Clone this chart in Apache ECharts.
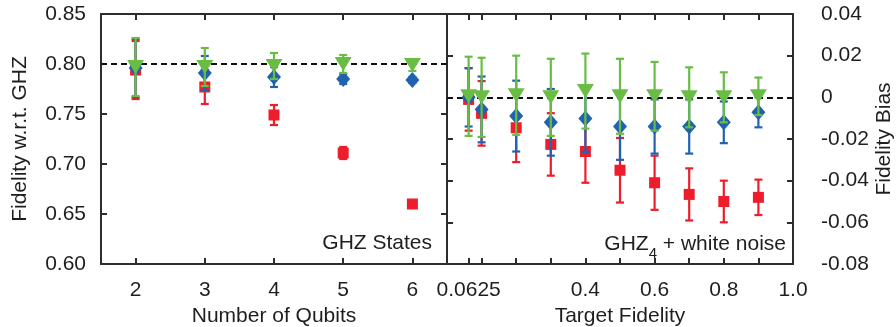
<!DOCTYPE html>
<html>
<head>
<meta charset="utf-8">
<script src="https://cdn.jsdelivr.net/npm/echarts@6/dist/echarts.min.js"></script>
<style>
html,body{margin:0;padding:0;background:#fff;}
#c{width:896px;height:327px;}
</style>
</head>
<body>
<div id="c"></div>
<script>
// ---- Left panel: GHZ states ----
const qubits = [2, 3, 4, 5, 6];
const ghzRed = [0.794, 0.777, 0.749, 0.711, 0.660];
const ghzRedErr = [0.029, 0.017, 0.010, 0.006, 0.002];
const ghzBlue = [0.796, 0.791, 0.787, 0.785, 0.784];
const ghzBlueErr = [0.029, 0.017, 0.010, 0.005, 0.003];
const ghzGreen = [0.797, 0.797, 0.798, 0.800, 0.799];
const ghzGreenErr = [0.029, 0.019, 0.013, 0.009, 0.006];
const qubitTicks = [2, 3, 4, 5, 6];
const ghzReference = 0.80;

// ---- Right panel: GHZ4 + white noise ----
const targetFid = [0.0625, 0.1, 0.2, 0.3, 0.4, 0.5, 0.6, 0.7, 0.8, 0.9];
const noiseRed = [-0.001, -0.0077, -0.0146, -0.0226, -0.026, -0.035, -0.041, -0.0466, -0.050, -0.048];
const noiseRedErr = [0.015, 0.0155, 0.0165, 0.015, 0.015, 0.0155, 0.013, 0.0125, 0.010, 0.0085];
const noiseBlue = [0.0, -0.0058, -0.009, -0.012, -0.0102, -0.014, -0.014, -0.014, -0.012, -0.0072];
const noiseBlueErr = [0.014, 0.0158, 0.017, 0.016, 0.016, 0.016, 0.013, 0.013, 0.010, 0.0072];
const noiseGreen = [0.0005, 0.0, 0.001, 0.0, 0.003, 0.0005, 0.0005, 0.0, 0.0, 0.0005];
const noiseGreenErr = [0.019, 0.019, 0.019, 0.0185, 0.018, 0.018, 0.0165, 0.0144, 0.012, 0.009];
const targetTicks = [0.0625, 0.1, 0.2, 0.3, 0.4, 0.5, 0.6, 0.7, 0.8, 0.9];
const targetLabels = [0.0625, 0.4, 0.6, 0.8, 1.0];
const biasReference = 0;

const RED = '#ee1d2b', BLUE = '#2162b0', GREEN = '#69bd45';
const FRAME = '#2b2e31', TEXT = '#1e1e1e';
const FONT = '"Liberation Sans", Arial, sans-serif';
const FS = 21;

const chart = echarts.init(document.getElementById('c'), null, {renderer: 'canvas'});

function errSeries(xs, ys, es, color, xi, yi, z) {
  return {
    type: 'custom', xAxisIndex: xi, yAxisIndex: yi, z: z, silent: true,
    data: xs.map((x, i) => [x, ys[i], es[i]]),
    encode: {x: 0, y: 1},
    renderItem: function (params, api) {
      const x = api.value(0), y = api.value(1), e = api.value(2);
      const t = api.coord([x, y + e]);
      const b = api.coord([x, y - e]);
      const w = 4;
      const st = {stroke: color, lineWidth: 2.2};
      return {type: 'group', children: [
        {type: 'line', shape: {x1: t[0], y1: t[1], x2: b[0], y2: b[1]}, style: st},
        {type: 'line', shape: {x1: t[0] - w, y1: t[1], x2: t[0] + w, y2: t[1]}, style: st},
        {type: 'line', shape: {x1: b[0] - w, y1: b[1], x2: b[0] + w, y2: b[1]}, style: st}
      ]};
    }
  };
}
function ptSeries(xs, ys, color, symbol, size, rot, xi, yi, z) {
  return {
    type: 'scatter', xAxisIndex: xi, yAxisIndex: yi, z: z, silent: true,
    symbol: symbol, symbolSize: size, symbolRotate: rot,
    itemStyle: {color: color, opacity: 1},
    data: xs.map((x, i) => [x, ys[i]])
  };
}
function refLine(val, xi, yi) {
  return {
    type: 'line', xAxisIndex: xi, yAxisIndex: yi, data: [], z: 1, silent: true,
    markLine: {
      silent: true, symbol: 'none', label: {show: false},
      lineStyle: {color: '#111', type: [6, 4], width: 2},
      data: [{yAxis: val}]
    }
  };
}

const lineStyle = {color: FRAME, width: 2};
const axLine = {show: true, onZero: false, lineStyle: lineStyle};
const tickStyle = {show: true, inside: true, length: 6, lineStyle: {color: FRAME, width: 2}};
const lblStyle = {color: TEXT, fontFamily: FONT, fontSize: FS};
const nameStyle = {color: TEXT, fontFamily: FONT, fontSize: FS};

const option = {
  animation: false,
  backgroundColor: '#fff',
  grid: [
    {left: 101, top: 14, width: 346, height: 250, containLabel: false, outerBoundsMode: 'none'},
    {left: 447, top: 14, width: 346, height: 250, containLabel: false, outerBoundsMode: 'none'}
  ],
  xAxis: [
    {gridIndex: 0, type: 'value', min: 1.5, max: 6.5, position: 'bottom',
     axisLine: axLine, splitLine: {show: false},
     axisTick: Object.assign({customValues: qubitTicks}, tickStyle),
     axisLabel: Object.assign({customValues: qubitTicks, margin: 16}, lblStyle),
     name: 'Number of Qubits', nameLocation: 'middle', nameGap: 41, nameTextStyle: nameStyle},
    {gridIndex: 0, type: 'value', min: 1.5, max: 6.5, position: 'top',
     axisLine: axLine, splitLine: {show: false},
     axisTick: Object.assign({customValues: qubitTicks}, tickStyle),
     axisLabel: {show: false}},
    {gridIndex: 1, type: 'value', min: 0, max: 1, position: 'bottom',
     axisLine: axLine, splitLine: {show: false},
     axisTick: Object.assign({customValues: targetTicks}, tickStyle),
     axisLabel: Object.assign({customValues: targetLabels, margin: 16,
       formatter: v => (v === 1 ? '1.0' : String(v))}, lblStyle),
     name: 'Target Fidelity', nameLocation: 'middle', nameGap: 41, nameTextStyle: nameStyle},
    {gridIndex: 1, type: 'value', min: 0, max: 1, position: 'top',
     axisLine: axLine, splitLine: {show: false},
     axisTick: Object.assign({customValues: targetTicks}, tickStyle),
     axisLabel: {show: false}}
  ],
  yAxis: [
    {gridIndex: 0, type: 'value', min: 0.6, max: 0.85, interval: 0.05, position: 'left',
     axisLine: axLine, splitLine: {show: false},
     axisTick: tickStyle,
     axisLabel: Object.assign({margin: 15, formatter: v => v.toFixed(2)}, lblStyle),
     name: 'Fidelity w.r.t. GHZ', nameLocation: 'middle', nameRotate: 90, nameGap: 70,
     nameTextStyle: nameStyle},
    {gridIndex: 0, type: 'value', min: 0.6, max: 0.85, interval: 0.05, position: 'right',
     axisLine: axLine, splitLine: {show: false},
     axisTick: tickStyle, axisLabel: {show: false}},
    {gridIndex: 1, type: 'value', min: -0.08, max: 0.04, interval: 0.02, position: 'left',
     axisLine: axLine, splitLine: {show: false},
     axisTick: tickStyle, axisLabel: {show: false}},
    {gridIndex: 1, type: 'value', min: -0.08, max: 0.04, interval: 0.02, position: 'right',
     axisLine: axLine, splitLine: {show: false},
     axisTick: tickStyle,
     axisLabel: Object.assign({margin: 28, align: 'left',
       formatter: v => (Math.abs(v) < 1e-9 ? '0' : v.toFixed(2))}, lblStyle),
     name: 'Fidelity Bias', nameLocation: 'middle', nameRotate: 90, nameGap: 81,
     nameTextStyle: nameStyle}
  ],
  series: [
    refLine(ghzReference, 0, 0),
    refLine(biasReference, 2, 3),
    errSeries(qubits, ghzRed, ghzRedErr, RED, 0, 0, 2),
    ptSeries(qubits, ghzRed, RED, 'rect', 11, 0, 0, 0, 3),
    errSeries(qubits, ghzBlue, ghzBlueErr, BLUE, 0, 0, 4),
    ptSeries(qubits, ghzBlue, BLUE, 'diamond', [14, 16], 0, 0, 0, 5),
    errSeries(qubits, ghzGreen, ghzGreenErr, GREEN, 0, 0, 6),
    ptSeries(qubits, ghzGreen, GREEN, 'triangle', [17, 14], 180, 0, 0, 7),
    errSeries(targetFid, noiseRed, noiseRedErr, RED, 2, 3, 2),
    ptSeries(targetFid, noiseRed, RED, 'rect', 11, 0, 2, 3, 3),
    errSeries(targetFid, noiseBlue, noiseBlueErr, BLUE, 2, 3, 4),
    ptSeries(targetFid, noiseBlue, BLUE, 'diamond', [14, 16], 0, 2, 3, 5),
    errSeries(targetFid, noiseGreen, noiseGreenErr, GREEN, 2, 3, 6),
    ptSeries(targetFid, noiseGreen, GREEN, 'triangle', [17, 14], 180, 2, 3, 7)
  ],
  graphic: [
    {type: 'text', x: 432, y: 243, z: 10, silent: true,
     style: {text: 'GHZ States', fill: TEXT, font: FS + 'px ' + FONT, align: 'right', verticalAlign: 'middle'}},
    {type: 'text', x: 786, y: 243, z: 10, silent: true,
     style: {text: '{a|GHZ}{s|4}{a| + white noise}', fill: TEXT, align: 'right', verticalAlign: 'middle',
       rich: {
         a: {fontFamily: FONT, fontSize: FS, fill: TEXT, lineHeight: 24, verticalAlign: 'bottom'},
         s: {fontFamily: FONT, fontSize: 15, fill: TEXT, lineHeight: 24, verticalAlign: 'bottom', padding: [0, 0, -6, 0]}
       }}}
  ]
};
chart.setOption(option);
</script>
</body>
</html>
